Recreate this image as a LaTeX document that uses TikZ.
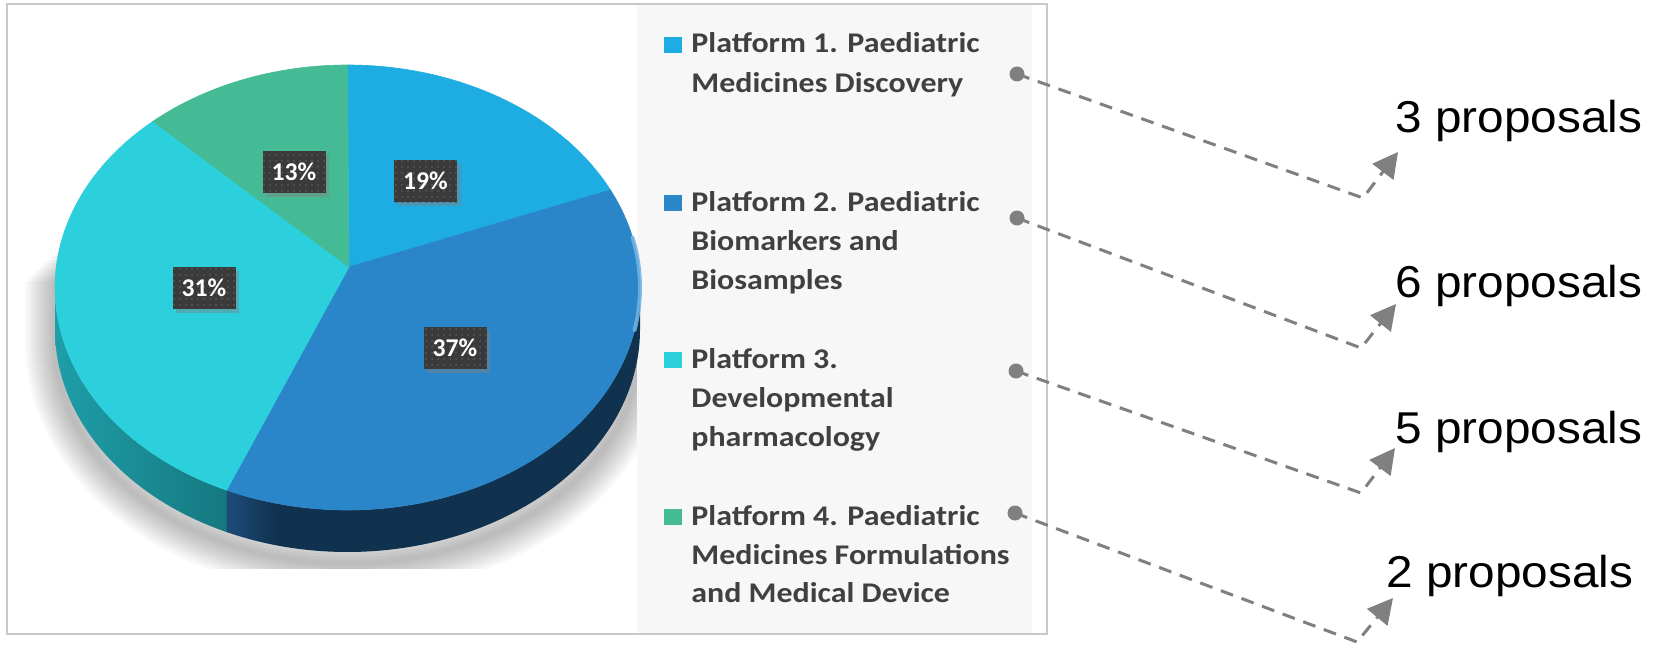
\documentclass[tikz,border=0pt]{standalone}
\usepackage{fontspec}
\setmainfont{Carlito}
\newfontfamily\arialfont{Liberation Sans}
\usetikzlibrary{arrows.meta,shadows,patterns,calc}
\definecolor{cA}{HTML}{1EADE3}
\definecolor{cB}{HTML}{2A86C8}
\definecolor{cC}{HTML}{2BD0DC}
\definecolor{cD}{HTML}{44BB95}
\definecolor{sideB}{HTML}{10324F}
\definecolor{sideBl}{HTML}{1D4C7A}
\definecolor{sideC}{HTML}{1E9EA8}
\definecolor{sideCd}{HTML}{167880}
\definecolor{rim}{HTML}{70B3E4}
\definecolor{panel}{HTML}{F7F7F7}
\definecolor{frame}{HTML}{C8C8C8}
\definecolor{legtext}{HTML}{404040}
\definecolor{conn}{HTML}{808080}
\definecolor{labbg}{HTML}{3A3A3A}
\definecolor{labdot}{HTML}{5A5A5A}
\pgfdeclarehorizontalshading{sideBshade}{100bp}{color(0bp)=(sideBl); color(25bp)=(sideBl); color(31bp)=(sideB); color(100bp)=(sideB)}
\tikzset{
  legtxt/.style={font=\fontsize{14.25}{17}\selectfont\bfseries, text=legtext, anchor=base west, inner sep=0pt, xscale=1.12},
  proptxt/.style={font=\arialfont\fontsize{22.3}{26}\selectfont, text=black, anchor=base west, inner sep=0pt, xscale=1.07},
  pct/.style={fill=labbg, postaction={pattern=dots, pattern color=labdot}, text=white, font=\fontsize{12.8}{14}\selectfont\bfseries,
    minimum width=31.5pt, minimum height=21pt, inner sep=0pt, drop shadow={shadow xshift=1.8pt, shadow yshift=-1.8pt, opacity=0.45}},
  dotnode/.style={circle, fill=conn, minimum size=7.5pt, inner sep=0pt},
  connline/.style={draw=conn, line width=1.5pt, dash pattern=on 6.5pt off 4.5pt, -{Triangle[length=12.5pt,width=13pt]}},
  pie/.style={x radius=292.5, y radius=222.5},
}
\begin{document}
\begin{tikzpicture}[x=0.5pt, y=-0.5pt]
\useasboundingbox (0,0) rectangle (1653,647);
\fill[white] (0,0) rectangle (1653,647);
% soft shadow of the pie
\def\silh{(55,299) arc[pie, start angle=180, end angle=360] -- ++(0,42) arc[pie, start angle=0, end angle=180] -- cycle}
\foreach \k in {1,...,10} {
  \begin{scope}
    \clip (0,{246+3.5*\k}) rectangle (637,568);
    \draw[black, opacity=0.026, line width=\k*3pt, line join=round] \silh;
  \end{scope}
}
% legend panel and frame
\fill[panel] (637,5) rectangle (1032,633);
\draw[frame, line width=1pt] (7,4) rectangle (1047,634);
% pie
\coordinate (C) at (347.5,287.5);
\coordinate (A) at (349,267);
\path (C) ++(-90:292.5 and 222.5) coordinate (b0);
\path (C) ++(-26:292.5 and 222.5) coordinate (b1);
\path (C) ++(114.4:292.5 and 222.5) coordinate (b2);
\path (C) ++(228.3:292.5 and 222.5) coordinate (b3);
\path (C) ++(0:292.5 and 222.5) coordinate (e0);
\path (C) ++(-13:292.5 and 222.5) coordinate (r0);
% sides
\shade[shading=sideBshade] (e0) arc[pie, start angle=0, end angle=114.4] -- ++(0,42) arc[pie, start angle=114.4, end angle=0] -- cycle;
\shade[left color=sideC, right color=sideCd] (b2) arc[pie, start angle=114.4, end angle=180] -- ++(0,42) arc[pie, start angle=180, end angle=114.4] -- cycle;
% top faces
\filldraw[fill=cA, draw=cA, line width=0.3pt] (A) -- (b0) arc[pie, start angle=-90, end angle=-26] -- cycle;
\filldraw[fill=cB, draw=cB, line width=0.3pt] (A) -- (b1) arc[pie, start angle=-26, end angle=114.4] -- cycle;
\filldraw[fill=cC, draw=cC, line width=0.3pt] (A) -- (b2) arc[pie, start angle=114.4, end angle=228.3] -- cycle;
\filldraw[fill=cD, draw=cD, line width=0.3pt] (A) -- (b3) arc[pie, start angle=228.3, end angle=270] -- cycle;
% light rim at the right edge
\draw[rim, line width=2pt, line cap=round, opacity=0.85] (r0) arc[pie, start angle=-13, end angle=11];
% percentage labels
\node[pct] (pA) at (425.5,181) {19\%};
\node[pct] (pD) at (294,172) {13\%};
\node[pct] (pC) at (204,288) {31\%};
\node[pct] (pB) at (455,348) {37\%};
% legend
\fill[cA] (664,37) rectangle (682,53);
\node[legtxt] (l1a) at (691,53) {Platform 1. Paediatric};
\node[legtxt] (l1b) at (691,92.5) {Medicines Discovery};
\fill[cB] (664,195) rectangle (682,211);
\node[legtxt] (l2a) at (691,211) {Platform 2. Paediatric};
\node[legtxt] (l2b) at (691,250) {Biomarkers and};
\node[legtxt] (l2c) at (691,289) {Biosamples};
\fill[cC] (664,352) rectangle (682,368);
\node[legtxt] (l3a) at (691,368) {Platform 3.};
\node[legtxt] (l3b) at (691,407) {Developmental};
\node[legtxt] (l3c) at (691,446) {pharmacology};
\fill[cD] (664,509) rectangle (682,525);
\node[legtxt] (l4a) at (691,525) {Platform 4. Paediatric};
\node[legtxt] (l4b) at (691,564) {Medicines Formulations};
\node[legtxt] (l4c) at (691,602) {and Medical Device};
% proposals
\node[proptxt] (p1) at (1395,133) {3 proposals};
\node[proptxt] (p2) at (1395,297) {6 proposals};
\node[proptxt] (p3) at (1395,443) {5 proposals};
\node[proptxt] (p4) at (1386,587) {2 proposals};
% connectors
\node[dotnode] (d1) at (1017,74) {};
\node[dotnode] (d2) at (1017,218) {};
\node[dotnode] (d3) at (1016,371) {};
\node[dotnode] (d4) at (1015,513) {};
\coordinate (t1) at (1363,198); \coordinate (h1) at (1398,152);
\coordinate (t2) at (1361,348); \coordinate (h2) at (1396,304);
\coordinate (t3) at (1361,493); \coordinate (h3) at (1395,448);
\coordinate (t4) at (1357,642); \coordinate (h4) at (1393,598);
\draw[connline] (d1.center) -- (t1) -- (h1);
\draw[connline] (d2.center) -- (t2) -- (h2);
\draw[connline] (d3.center) -- (t3) -- (h3);
\draw[connline] (d4.center) -- (t4) -- (h4);
\end{tikzpicture}
\end{document}
